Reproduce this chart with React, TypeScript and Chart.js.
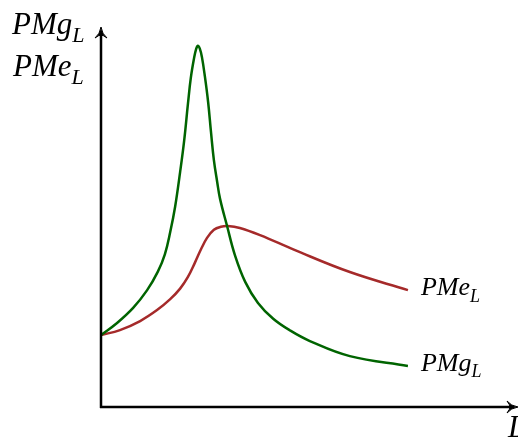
import React, { useEffect, useRef } from "react";
import { Chart, registerables } from "chart.js";

Chart.register(...registerables);

// Labour L (0..100) and product values (0..100)
const pmgL = [0, 3.9, 7.8, 11.2, 13.8, 15.5, 16.8, 18.0, 19.2, 20.2, 21.1, 21.8, 22.6, 23.1, 23.5, 24.0, 24.5, 25.2, 26.0, 26.7, 27.4, 28.2, 28.9, 30.6, 32.5, 35.0, 38.1, 41.8, 45.9, 50.7, 60.4, 74.5];
const pmgY = [19.1, 22.3, 26.3, 31.0, 35.9, 40.5, 46.4, 53.2, 62.3, 70.8, 80.4, 87.3, 92.6, 95.0, 95.8, 95.0, 92.8, 87.8, 80.9, 72.9, 65.5, 59.7, 55.2, 48.0, 40.3, 33.2, 27.6, 23.4, 20.3, 17.5, 13.5, 10.9];

const pmeL = [0, 4.6, 9.5, 13.6, 16.8, 19.2, 21.1, 22.8, 24.3, 25.7, 27.4, 29.1, 30.8, 33.7, 38.6, 47.1, 60.4, 74.5];
const pmeY = [19.1, 20.4, 22.8, 25.7, 28.6, 31.4, 34.5, 38.3, 41.9, 44.8, 47.0, 47.8, 48.0, 47.5, 45.6, 41.6, 35.8, 31.0];

const yAxisLabels = [["PMg", "L"], ["PMe", "L"]];
const xAxisLabel = "L";
const curveLabels = [["PMe", "L"], ["PMg", "L"]];

const GREEN = "#006400";
const RED = "#a52a2a";
const FONT = `"Liberation Serif", "DejaVu Serif", serif`;

function drawSub(ctx: CanvasRenderingContext2D, main: string, sub: string, x: number, y: number, size: number) {
  ctx.font = `italic ${size}px ${FONT}`;
  ctx.textBaseline = "alphabetic";
  ctx.textAlign = "left";
  ctx.fillText(main, x, y);
  const w = ctx.measureText(main).width;
  ctx.font = `italic ${Math.round(size * 0.7)}px ${FONT}`;
  ctx.fillText(sub, x + w, y + size * 0.25);
}

function arrowHead(ctx: CanvasRenderingContext2D, x: number, y: number, dir: "up" | "right") {
  ctx.save();
  ctx.translate(x, y);
  if (dir === "right") ctx.rotate(Math.PI / 2);
  ctx.beginPath();
  ctx.moveTo(0, 0);
  ctx.quadraticCurveTo(1, 7, 6, 11);
  ctx.quadraticCurveTo(2, 8, 0, 8);
  ctx.quadraticCurveTo(-2, 8, -6, 11);
  ctx.quadraticCurveTo(-1, 7, 0, 0);
  ctx.closePath();
  ctx.fill();
  ctx.lineWidth = 1;
  ctx.stroke();
  ctx.restore();
}

const overlay = {
  id: "overlay",
  afterDraw(chart: any) {
    const ctx = chart.ctx as CanvasRenderingContext2D;
    const a = chart.chartArea;
    ctx.save();
    ctx.strokeStyle = "#000";
    ctx.fillStyle = "#000";
    ctx.lineWidth = 2.5;
    ctx.beginPath();
    ctx.moveTo(a.left, a.bottom + 1);
    ctx.lineTo(a.left, a.top + 2);
    ctx.moveTo(a.left - 1, a.bottom);
    ctx.lineTo(a.right + 1, a.bottom);
    ctx.stroke();
    arrowHead(ctx, a.left, a.top - 3, "up");
    arrowHead(ctx, a.right + 5, a.bottom, "right");

    drawSub(ctx, yAxisLabels[0][0], yAxisLabels[0][1], a.left - 89, a.top + 4, 31);
    drawSub(ctx, yAxisLabels[1][0], yAxisLabels[1][1], a.left - 88, a.top + 46, 31);
    ctx.fillStyle = "#000";
    ctx.font = `italic 31px ${FONT}`;
    ctx.fillText(xAxisLabel, a.right - 5, a.bottom + 30);

    const xs = chart.scales.x;
    const ys = chart.scales.y;
    const ends = [
      [pmeL[pmeL.length - 1], pmeY[pmeY.length - 1]],
      [pmgL[pmgL.length - 1], pmgY[pmgY.length - 1]],
    ];
    ends.forEach((e, i) => {
      const px = xs.getPixelForValue(e[0]);
      const py = ys.getPixelForValue(e[1]);
      drawSub(ctx, curveLabels[i][0], curveLabels[i][1], px + 13, py + 5, 26);
    });
    ctx.restore();
  },
};

export default function App() {
  const ref = useRef<HTMLCanvasElement>(null);
  useEffect(() => {
    if (!ref.current) return;
    const chart = new Chart(ref.current, {
      type: "line",
      data: {
        datasets: [
          {
            label: "PMgL",
            data: pmgL.map((x, i) => ({ x, y: pmgY[i] })),
            borderColor: GREEN,
            borderWidth: 2.5,
            pointRadius: 0,
            tension: 0.4,
            fill: false,
          },
          {
            label: "PMeL",
            data: pmeL.map((x, i) => ({ x, y: pmeY[i] })),
            borderColor: RED,
            borderWidth: 2.5,
            pointRadius: 0,
            tension: 0.4,
            fill: false,
          },
        ],
      },
      options: {
        animation: false,
        responsive: false,
        devicePixelRatio: 1,
        layout: { padding: { left: 101, top: 30, right: 5, bottom: 30 } },
        plugins: { legend: { display: false }, tooltip: { enabled: false } },
        scales: {
          x: { type: "linear", min: 0, max: 100, display: false },
          y: { type: "linear", min: 0, max: 100, display: false },
        },
      },
      plugins: [overlay],
    } as any);
    return () => chart.destroy();
  }, []);
  return (
    <div style={{ position: "fixed", left: 0, top: 0, width: 518, height: 437, background: "#fff" }}>
      <canvas ref={ref} width={518} height={437} />
    </div>
  );
}
